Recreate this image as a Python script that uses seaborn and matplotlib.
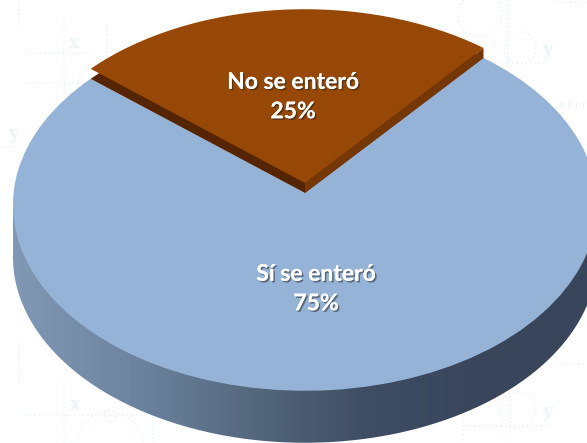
import numpy as np
import matplotlib
matplotlib.use('Agg')
import matplotlib.pyplot as plt
import matplotlib.patheffects as pe
from matplotlib.patches import Polygon
from matplotlib.transforms import Transform
import seaborn as sns

labels = ['No se enteró', 'Sí se enteró']
values = [25, 75]

# faint formula sheet behind the chart
bg_hlines = [(53, 27, 90), (83, 24, 85), (147, 0, 15), (63, 490, 548), (2, 557, 587),
             (415, 25, 140), (426, 465, 550), (364, 556, 587)]
bg_vlines = [(19, 0, 28), (64, 18, 95), (107, 25, 70), (508, 0, 70), (19, 340, 383),
             (64, 380, 443), (153, 420, 443), (463, 412, 443), (510, 395, 443)]
bg_circles = [(520, 48, 16), (100, 85, 22), (110, 416, 6), (110, 445, 33), (518, 410, 18), (480, 15, 22)]
bg_letters = [('x', 74, 43), ('y', 13, 134), ('y', 547, 50), ('x', 75, 405), ('y', 547, 412)]


class DiscView(Transform):
    # unit pie -> disc seen in perspective, in image pixels
    input_dims = 2
    output_dims = 2
    has_inverse = False

    def __init__(self, cy, cx=305, rx=291.4, ry=185, k=0.0645):
        super().__init__()
        self.p = (cx, cy, rx, ry, k)

    def transform_non_affine(self, values):
        cx, cy, rx, ry, k = self.p
        u, v = np.asarray(values).T
        w = 1 + k * v
        return np.column_stack([cx + rx * u / w, cy - ry * v / w])


sns.set_theme(style='white')
plt.rcParams['font.family'] = ['Lato', 'DejaVu Sans']

fig = plt.figure(figsize=(5.87, 4.43), dpi=100)
ax = fig.add_axes([0, 0, 1, 1])
pale = '#edf4f6'

for y, x0, x1 in bg_hlines:
    ax.plot([x0, x1], [y, y], ls=':', lw=1.2, color=pale, zorder=1)
for x, y0, y1 in bg_vlines:
    ax.plot([x, x], [y0, y1], ls=':', lw=1.2, color=pale, zorder=1)
for x, y, r in bg_circles:
    a = np.linspace(0, 2 * np.pi, 80)
    ax.plot(x + r * np.cos(a), y + r * np.sin(a), ls=':', lw=1.2, color=pale, zorder=1)
for s, x, y in bg_letters:
    ax.text(x, y, s, color=pale, fontsize=13, fontweight='bold', family='DejaVu Serif',
            ha='center', va='center', zorder=1)
ax.text(572, 105, 'e t r i', color=pale, fontsize=9, style='italic', ha='center', va='center', zorder=1)

raised = DiscView(183)
top = DiscView(193)
low = DiscView(245)

# rim of the big slice, shaded left to right
t = np.linspace(0, 2 * np.pi, 721)
circle = np.column_stack([np.cos(t), np.sin(t)])
low_pts = low.transform_non_affine(circle)
top_pts = top.transform_non_affine(circle)
under = low_pts[low_pts[:, 1] >= low_pts[np.argmin(low_pts[:, 0]), 1]]
under = under[np.argsort(under[:, 0])]
rim = np.vstack([top_pts[np.argmin(top_pts[:, 0])], under, top_pts[np.argmax(top_pts[:, 0])]])
rim_cmap = sns.blend_palette(['#8098b4', '#6e85a1', '#56697f', '#3f4e65', '#38455b', '#38455b'], as_cmap=True)
img = ax.imshow(np.linspace(0, 1, 300)[None, :], extent=(13, 597, 443, 150), cmap=rim_cmap,
                aspect='auto', zorder=2)
img.set_clip_path(Polygon(rim, closed=True, transform=ax.transData))

flat = {'linewidth': 0, 'edgecolor': 'none'}
slices_side, _ = ax.pie(values, startangle=50, colors=['#552503', '#95b3d7'], wedgeprops=flat)
slices, _ = ax.pie(values, startangle=50, colors=['#974806', '#95b3d7'], wedgeprops=flat)

slices_side[1].set_visible(False)
slices_side[0].set_transform(top + ax.transData)
slices_side[0].set_zorder(5)
slices[1].set_transform(top + ax.transData)
slices[1].set_zorder(3)
slices[0].set_transform(raised + ax.transData)
slices[0].set_zorder(6)

# right cut face of the raised slice is lit a little
a = np.deg2rad(50)
edge = np.array([[0, 0], [np.cos(a), np.sin(a)]])
p_hi, p_lo = raised.transform_non_affine(edge), top.transform_non_affine(edge)
ax.add_patch(Polygon(np.vstack([p_hi, p_lo[::-1]]), closed=True, fc='#763706', ec='none', zorder=5.5))

shadow = [pe.withSimplePatchShadow(offset=(1.2, -1.2), shadow_rgbFace='#222222', alpha=0.5), pe.Normal()]
label_xy = [(293, 97), (316, 289)]
for lab, val, (x, y) in zip(labels, values, label_xy):
    ax.text(x, y, f'{lab}\n{val}%', color='white', fontsize=16.5, fontweight='bold', ha='center',
            va='center', linespacing=1.5, path_effects=shadow, zorder=10)

ax.set_xlim(0, 587)
ax.set_ylim(443, 0)
ax.set_aspect('auto')
ax.axis('off')

fig.savefig('out.png', dpi=100)
